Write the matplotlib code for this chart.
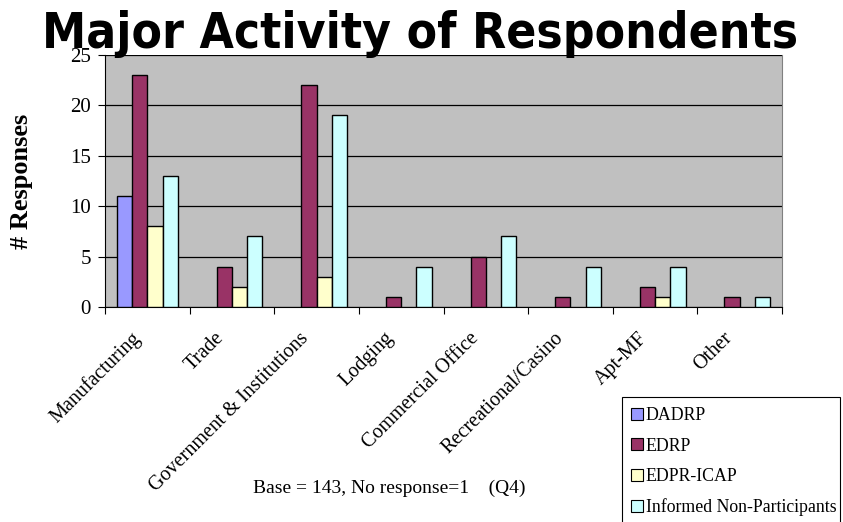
import matplotlib
matplotlib.use("Agg")
import matplotlib.pyplot as plt
import matplotlib.transforms as mtransforms
import numpy as np
from matplotlib.patches import Patch, Rectangle

categories = ["Manufacturing", "Trade", "Government & Institutions", "Lodging",
              "Commercial Office", "Recreational/Casino", "Apt-MF", "Other"]
series_names = ["DADRP", "EDRP", "EDPR-ICAP", "Informed Non-Participants"]
dadrp = [11, 0, 0, 0, 0, 0, 0, 0]
edrp = [23, 4, 22, 1, 5, 1, 2, 1]
edpr_icap = [8, 2, 3, 0, 0, 0, 1, 0]
inp = [13, 7, 19, 4, 7, 4, 4, 1]
colors = ["#9999FF", "#993366", "#FFFFCC", "#CCFFFF"]

W, H = 843, 522
fig = plt.figure(figsize=(W/100, H/100), dpi=100)
ax = fig.add_axes([105/W, 1-307/H, (782-105)/W, (307-55)/H])
ax.set_facecolor("#C0C0C0")

x = np.arange(len(categories))
w = 0.18
for i, (vals, c) in enumerate(zip([dadrp, edrp, edpr_icap, inp], colors)):
    xs = x + (i - 1.5) * w
    for xi, v in zip(xs, vals):
        if v > 0:
            ax.bar(xi, v, width=w, color=c, edgecolor="black", linewidth=1.0, zorder=3)

ax.set_xlim(-0.5, len(categories) - 0.5)
ax.set_ylim(0, 25)
ax.set_yticks([0, 5, 10, 15, 20, 25])
ax.grid(axis="y", color="black", linewidth=0.9, zorder=1)
ax.set_axisbelow(True)

ax.set_xticks(x)
ax.set_xticklabels(categories, rotation=45, ha="right", rotation_mode="anchor",
                   family="Liberation Serif", fontsize=14.5)
ax.tick_params(axis="x", which="major", length=0, pad=10)
offset = mtransforms.ScaledTranslation(-0.17, -0.08, fig.dpi_scale_trans)
for lab in ax.get_xticklabels():
    lab.set_transform(lab.get_transform() + offset)
ax.set_xticks(np.arange(-0.5, len(categories), 1.0), minor=True)
ax.tick_params(axis="x", which="minor", length=5, direction="out", width=0.8)
ax.tick_params(axis="y", length=5, direction="out", width=0.8, labelsize=15, pad=5)
for lab in ax.get_yticklabels():
    lab.set_family("Liberation Serif")

ax.spines["top"].set_visible(False)
ax.spines["right"].set_color("#808080")
ax.spines["left"].set_color("black")
ax.spines["bottom"].set_color("black")

ax.set_ylabel("# Responses", family="Liberation Serif", fontsize=19, fontweight="bold")
ax.yaxis.set_label_coords((33 - 105) / 677, 0.5)

fig.text(0.498, 1 - 48/H, "Major Activity of Respondents", ha="center", va="baseline",
         family="DejaVu Sans", fontweight="bold", fontstretch="condensed", fontsize=35.6)

fig.text(253/W, 1-488/H, "Base = 143, No response=1    (Q4)", ha="left", va="center",
         family="Liberation Serif", fontsize=14)

# legend box
fig.patches.append(Rectangle((622/W, 1-530/H), (840-622)/W, (530-397)/H,
                             transform=fig.transFigure, facecolor="white",
                             edgecolor="black", linewidth=0.8, zorder=1))
handles = [Patch(facecolor=c, edgecolor="black", linewidth=0.8) for c in colors]
leg = fig.legend(handles, series_names, loc="upper left", bbox_to_anchor=(631/W, 1-407/H),
                 prop={"family": "Liberation Serif", "size": 12.8}, frameon=False,
                 handlelength=0.67, handleheight=0.67, handletextpad=0.17,
                 labelspacing=0.76, borderpad=0, borderaxespad=0)
leg.set_zorder(2)

fig.savefig("out.png", dpi=100)
